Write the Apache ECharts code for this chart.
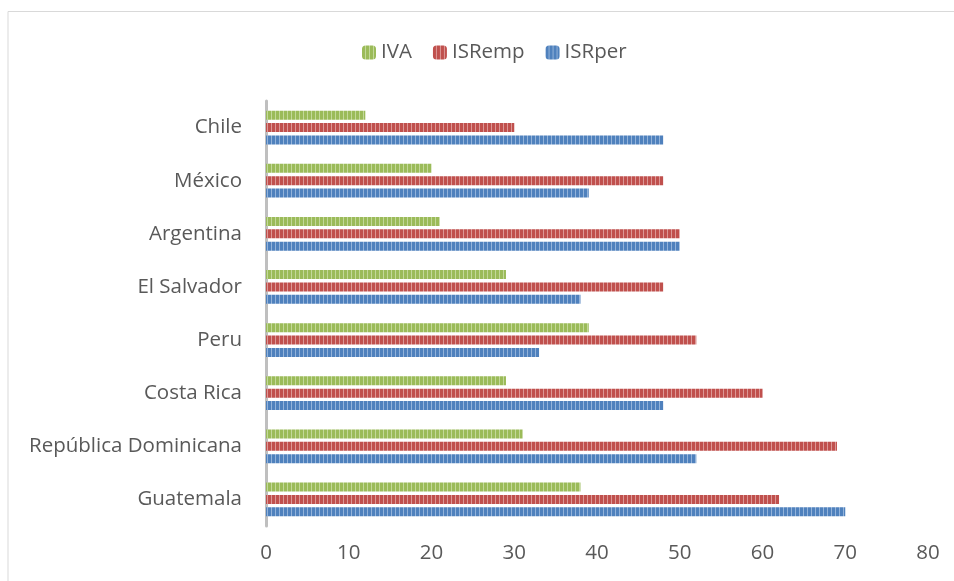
<!DOCTYPE html>
<html>
<head>
<meta charset="utf-8">
<script src="https://cdn.jsdelivr.net/npm/echarts@6/dist/echarts.min.js"></script>
<style>
html,body{margin:0;padding:0;background:#fff;}
#chart{width:954px;height:581px;}
</style>
</head>
<body>
<div id="chart"></div>
<script>
// datos
var paises = ["Chile", "México", "Argentina", "El Salvador", "Peru", "Costa Rica", "República Dominicana", "Guatemala"];
var iva = [12, 20, 21, 29, 39, 29, 31, 38];
var isrEmp = [30, 48, 50, 48, 52, 60, 69, 62];
var isrPer = [48, 39, 50, 38, 33, 48, 52, 70];
var ticksX = [0, 10, 20, 30, 40, 50, 60, 70, 80];

// textura de rayas verticales tipo Excel
function rayas(base, claro) {
	var c = document.createElement("canvas");
	c.width = 4; c.height = 4;
	var ctx = c.getContext("2d");
	ctx.fillStyle = base;
	ctx.fillRect(0, 0, 4, 4);
	ctx.fillStyle = claro;
	ctx.fillRect(3, 0, 1, 4);
	return {image: c, repeat: "repeat"};
}

var myChart = echarts.init(document.getElementById("chart"));
var fuente = "'Open Sans', 'Liberation Sans', sans-serif";

var option = {
	backgroundColor: "#fff",
	textStyle: {fontFamily: fuente},
	graphic: [{
		type: "polyline",
		shape: {points: [[8, 581], [8, 11.5], [954, 11.5]]},
		style: {stroke: "#d9d9d9", fill: null, lineWidth: 1}
	}],
	legend: {
		data: ["IVA", "ISRemp", "ISRper"],
		top: 37,
		left: 357,
		itemWidth: 14,
		itemHeight: 14,
		itemGap: 21,
		textStyle: {fontSize: 20.5, color: "#595959", fontFamily: fuente}
	},
	grid: {
		left: 266,
		right: 26,
		top: 101,
		bottom: 55,
		containLabel: false
	},
	xAxis: {
		type: "value",
		min: 0,
		max: 80,
		interval: 10,
		axisLine: {show: false},
		axisTick: {show: false},
		splitLine: {show: false},
		axisLabel: {
			fontSize: 20.5, color: "#595959", margin: 17, fontFamily: fuente,
			formatter: function (v) { return ticksX.indexOf(v) >= 0 ? String(v) : ""; }
		}
	},
	yAxis: {
		type: "category",
		data: paises,
		inverse: true,
		axisLine: {show: true, lineStyle: {color: "#bfbfbf", width: 3}},
		axisTick: {show: false},
		axisLabel: {fontSize: 20.5, color: "#595959", margin: 24, fontFamily: fuente}
	},
	series: [
		{
			name: "IVA",
			type: "bar",
			data: iva,
			barWidth: 9,
			barGap: "38%",
			itemStyle: {color: rayas("#9bbb59", "#c3d89a")}
		},
		{
			name: "ISRemp",
			type: "bar",
			data: isrEmp,
			barWidth: 9,
			barGap: "38%",
			itemStyle: {color: rayas("#c0504d", "#dc9896")}
		},
		{
			name: "ISRper",
			type: "bar",
			data: isrPer,
			barWidth: 9,
			barGap: "38%",
			itemStyle: {color: rayas("#4f81bd", "#93b3da")}
		}
	]
};
myChart.setOption(option);
</script>
</body>
</html>
